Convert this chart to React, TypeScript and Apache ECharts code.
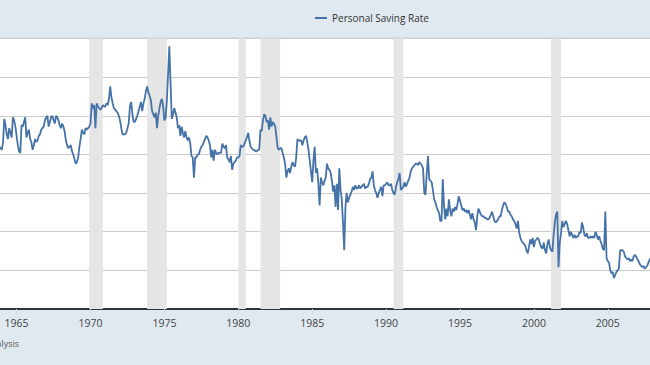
import React, { useEffect, useRef } from "react";
import * as echarts from "echarts";

const SERIES_NAME = "Personal Saving Rate";
const SOURCE_TEXT = "Source: U.S. Bureau of Economic Analysis";
const FIRST_MONTH = "1963-11";

// Monthly personal saving rate (%)
const rate1960s = [
  10.5, 10.4,
  10.3, 10.8, 12.3, 11.9, 11.3, 11.0, 11.7, 11.4, 11.1, 12.4, 12.2, 11.8,
  11.2, 10.6, 10.2, 10.1, 11.9, 11.8, 12.1, 12.4, 11.1, 11.4, 11.6, 11.0,
  10.8, 10.3, 10.6, 11.0, 10.8, 10.9, 11.2, 11.3, 11.6, 11.7, 11.8, 12.2,
  12.4, 12.5, 11.8, 12.1, 12.4, 12.5, 12.2, 12.0, 12.5, 12.4, 12.2, 11.9,
  11.7, 12.0, 11.8, 11.5, 10.9, 10.6, 10.4, 10.5, 10.6, 10.2, 10.0, 9.7,
  9.4, 9.5, 9.8, 10.5, 11.0, 11.6, 11.4, 11.3, 11.7, 11.6, 11.7, 11.8,
];
const rate1970s = [
  12.0, 13.3, 13.0, 13.2, 11.7, 13.3, 13.1, 13.0, 12.9, 13.0, 13.2, 13.1,
  13.1, 13.3, 13.2, 13.6, 14.4, 13.7, 13.3, 13.0, 12.9, 12.8, 12.7, 12.5,
  12.2, 11.7, 11.3, 11.3, 11.3, 11.4, 11.7, 12.0, 13.1, 13.4, 12.6, 12.1,
  12.1, 12.3, 12.5, 12.8, 13.1, 13.4, 12.8, 13.3, 13.6, 14.1, 14.4, 14.0,
  13.8, 13.5, 12.8, 12.6, 12.4, 12.7, 11.7, 12.5, 13.0, 13.4, 13.6, 13.1,
  12.2, 12.4, 13.5, 15.2, 17.0, 14.6, 12.3, 12.6, 13.0, 12.7, 12.4, 11.7,
  11.9, 11.2, 11.8, 11.4, 11.1, 11.5, 11.1, 10.9, 11.1, 10.7, 9.9, 9.8,
  8.5, 9.8, 9.8, 10.0, 10.0, 10.3, 10.5, 10.6, 10.8, 11.0, 11.2, 11.1,
  10.9, 10.6, 9.8, 10.3, 9.6, 10.3, 10.1, 10.0, 10.1, 10.1, 10.1, 10.7,
  10.5, 10.4, 10.6, 9.8, 9.7, 9.5, 9.9, 9.0, 9.4, 9.5, 9.6, 9.8,
];
const rate1980s = [
  9.8, 9.9, 10.6, 10.5, 10.5, 10.7, 10.9, 11.1, 11.4, 10.9, 10.5, 10.4,
  10.3, 10.3, 10.2, 10.2, 10.3, 10.3, 11.6, 11.5, 12.2, 12.6, 12.5, 12.1,
  12.2, 11.6, 12.4, 11.8, 12.1, 12.0, 11.8, 11.1, 10.4, 10.3, 10.4, 10.4,
  10.1, 9.8, 9.4, 8.5, 8.9, 9.1, 8.8, 9.2, 9.5, 9.3, 9.2, 9.8,
  11.0, 10.9, 10.9, 10.9, 10.6, 10.9, 11.1, 11.2, 10.8, 10.3, 9.6, 8.9,
  8.2, 9.6, 10.5, 8.8, 9.1, 8.1, 6.7, 8.5, 8.2, 8.0, 8.3, 8.5,
  9.4, 9.1, 9.0, 8.8, 8.3, 7.6, 8.0, 6.6, 8.1, 6.4, 9.1, 7.7,
  7.1, 5.6, 3.8, 6.6, 7.5, 6.9, 7.2, 7.4, 7.6, 7.9, 7.7, 8.0,
  7.8, 7.8, 8.0, 7.8, 7.9, 8.0, 8.1, 7.8, 7.9, 7.9, 8.1, 8.4,
  8.5, 8.9, 8.0, 7.7, 7.5, 7.2, 7.5, 7.7, 7.9, 7.3, 8.0, 8.0,
];
const rate1990s = [
  8.1, 8.2, 8.0, 8.0, 8.1, 7.7, 7.5, 7.4, 7.9, 8.2, 8.4, 8.8,
  7.7, 7.8, 7.9, 8.2, 7.9, 8.1, 8.3, 8.5, 8.9, 9.1, 9.2, 9.3,
  9.4, 9.4, 9.3, 9.5, 9.4, 9.3, 9.1, 7.5, 7.4, 8.8, 9.9, 8.4,
  8.3, 8.2, 7.7, 7.1, 6.9, 6.6, 6.4, 6.2, 5.7, 5.7, 8.4, 6.7,
  5.8, 6.5, 6.0, 7.1, 6.4, 6.0, 6.5, 6.3, 6.6, 6.4, 6.8, 7.3,
  7.0, 6.7, 6.4, 6.5, 6.3, 6.4, 6.2, 6.4, 6.1, 5.8, 6.2, 5.8,
  5.6, 5.1, 6.0, 6.5, 6.3, 6.1, 6.0, 6.0, 5.9, 5.9, 5.8, 5.8,
  5.9, 6.1, 6.3, 6.0, 5.7, 5.6, 5.7, 5.8, 6.0, 6.0, 6.4, 6.7,
  6.9, 6.8, 6.6, 6.3, 6.3, 6.1, 6.0, 5.8, 5.7, 5.5, 5.2, 5.7,
  5.0, 4.6, 4.4, 4.3, 4.2, 4.1, 3.8, 3.6, 4.0, 4.5, 4.2, 4.6,
];
const rate2000s = [
  4.0, 4.4, 4.5, 4.6, 4.5, 4.2, 4.0, 3.9, 4.3, 3.8, 3.6, 4.2,
  4.5, 4.0, 3.8, 3.7, 4.8, 5.6, 6.1, 6.3, 2.7, 4.3, 4.9, 5.7,
  5.3, 5.5, 5.7, 5.5, 5.1, 4.7, 5.0, 4.8, 4.6, 4.8, 4.6, 4.7,
  4.7, 5.0, 4.9, 5.6, 5.3, 4.8, 4.7, 4.9, 4.6, 4.6, 4.7, 4.6,
  4.7, 4.6, 5.0, 4.8, 4.5, 4.7, 4.4, 4.2, 3.9, 3.8, 6.3, 3.3,
  3.1, 3.0, 2.5, 2.3, 2.4, 2.0, 2.2, 2.4, 2.5, 2.6, 3.8, 3.8,
  3.8, 3.7, 3.4, 3.3, 3.2, 3.3, 3.1, 3.2, 3.1, 3.4, 3.5, 3.4,
  3.2, 3.1, 2.9, 2.8, 2.7, 2.8, 2.6, 2.7, 2.8, 3.0, 3.2, 3.3,
];

// NBER recessions (start month, end month)
const recessions = [
  ["1969-12", "1970-11"],
  ["1973-11", "1975-03"],
  ["1980-01", "1980-07"],
  ["1981-07", "1982-11"],
  ["1990-07", "1991-03"],
  ["2001-03", "2001-11"],
];

const yearLabels = [1965, 1970, 1975, 1980, 1985, 1990, 1995, 2000, 2005];

// The visible picture is a crop of a wider chart
const VIEW_W = 650;
const VIEW_H = 365;
const OFFSET_LEFT = 60;
const EXTRA_RIGHT = 40;

function toYear(s: string): number {
  const [y, m] = s.split("-").map(Number);
  return y + (m - 1) / 12;
}

export default function App() {
  const ref = useRef<HTMLDivElement>(null);

  useEffect(() => {
    if (!ref.current) return;
    const chart = echarts.init(ref.current, undefined, { renderer: "svg" });
    const values = [...rate1960s, ...rate1970s, ...rate1980s, ...rate1990s, ...rate2000s];
    const start = toYear(FIRST_MONTH);
    const points = values.map((v, i) => [start + i / 12, v]);
    const innerW = VIEW_W + OFFSET_LEFT + EXTRA_RIGHT;

    chart.setOption({
      animation: false,
      backgroundColor: "#e1e9f0",
      textStyle: { fontFamily: "Open Sans" },
      legend: {
        data: [SERIES_NAME],
        left: OFFSET_LEFT + 310,
        top: 8,
        icon: "rect",
        itemWidth: 12,
        itemHeight: 2,
        itemGap: 5,
        textStyle: { fontSize: 10, color: "#333333", fontFamily: "Open Sans" },
      },
      grid: {
        left: OFFSET_LEFT - 57.3,
        right: innerW - (OFFSET_LEFT + 681.7),
        top: 38.5,
        bottom: 56,
        show: true,
        backgroundColor: "#ffffff",
        borderWidth: 0,
        containLabel: false,
        outerBoundsMode: "none",
      },
      xAxis: {
        type: "value",
        min: 1960,
        max: 2010,
        interval: 5,
        axisLine: { lineStyle: { color: "#333333", width: 2 } },
        axisTick: { show: true, length: 5, lineStyle: { color: "#ccd6eb" } },
        axisLabel: {
          fontSize: 10.5,
          color: "#444444",
          margin: 8,
          fontFamily: "Open Sans",
          formatter: (v: number) => (yearLabels.includes(v) ? String(v) : ""),
        },
        splitLine: { show: false },
      },
      yAxis: {
        type: "value",
        min: 0,
        max: 17.5,
        interval: 2.5,
        axisLabel: { show: false },
        axisLine: { show: false },
        axisTick: { show: false },
        splitLine: { lineStyle: { color: "#cccccc", width: 1 } },
      },
      series: [
        {
          name: SERIES_NAME,
          type: "line",
          data: points,
          symbol: "none",
          showSymbol: false,
          lineStyle: { color: "#4572a7", width: 1.8 },
          itemStyle: { color: "#4572a7" },
          markArea: {
            silent: true,
            itemStyle: { color: "#e5e5e5" },
            data: recessions.map(([a, b]) => [{ xAxis: toYear(a) }, { xAxis: toYear(b) }]),
          },
        },
      ],
      graphic: [
        {
          type: "line",
          shape: { x1: 0, y1: 37.5, x2: innerW, y2: 37.5 },
          style: { stroke: "#d5dde5", lineWidth: 1 },
        },
        {
          type: "text",
          x: OFFSET_LEFT + 19,
          y: 343,
          style: {
            text: SOURCE_TEXT,
            align: "right",
            verticalAlign: "middle",
            fontSize: 9,
            fill: "#555555",
            fontFamily: "Open Sans",
          },
        },
      ],
    });
    return () => chart.dispose();
  }, []);

  return (
    <div
      style={{
        position: "absolute",
        left: 0,
        top: 0,
        width: VIEW_W,
        height: VIEW_H,
        overflow: "hidden",
        background: "#e1e9f0",
      }}
    >
      <div
        ref={ref}
        style={{
          position: "absolute",
          left: -OFFSET_LEFT,
          top: 0,
          width: VIEW_W + OFFSET_LEFT + EXTRA_RIGHT,
          height: VIEW_H,
        }}
      />
    </div>
  );
}
